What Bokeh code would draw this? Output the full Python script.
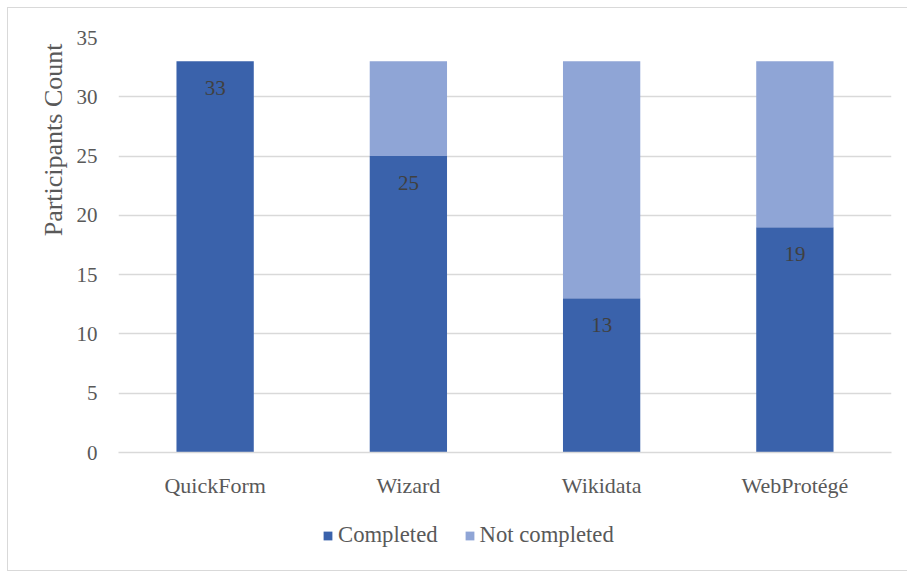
from bokeh.plotting import figure
from bokeh.models import ColumnDataSource, LabelSet, Legend, LegendItem, FactorRange, Range1d, Title
from bokeh.layouts import column
from bokeh.embed import file_html
from bokeh.resources import INLINE

tools = ["QuickForm", "Wizard", "Wikidata", "WebProtégé"]
completed = [33, 25, 13, 19]
not_completed = [0, 8, 20, 14]
y_ticks = [0, 5, 10, 15, 20, 25, 30, 35]
series_names = ["Completed", "Not completed"]

DARK = "#3A62AB"
LIGHT = "#8FA5D6"
FONT = "Liberation Serif"
TXT = "#595959"
GRID = "#d9d9d9"

src = ColumnDataSource(dict(tool=tools, Completed=completed, NotCompleted=not_completed,
                            label=[str(v) for v in completed]))

p = figure(width=899, height=492, x_range=FactorRange(*tools, range_padding=0),
           y_range=Range1d(0, 35), output_backend="svg", toolbar_location=None,
           min_border_left=110, min_border_right=16, min_border_top=29, min_border_bottom=42)
p.outline_line_color = None

r = p.vbar_stack(["Completed", "NotCompleted"], x="tool", width=0.4, source=src,
                 color=[DARK, LIGHT], line_color=None)

labels = LabelSet(x="tool", y="Completed", text="label", source=src, y_offset=-27,
                  text_align="center", text_baseline="middle", text_font=FONT,
                  text_font_size="21px", text_color="#404040")
p.add_layout(labels)

p.yaxis.ticker = y_ticks
p.yaxis.axis_line_color = None
p.yaxis.major_tick_line_color = None
p.yaxis.minor_tick_line_color = None
p.yaxis.major_label_text_font = FONT
p.yaxis.major_label_text_font_size = "21px"
p.yaxis.major_label_text_color = TXT
p.yaxis.major_label_standoff = 15

ytitle = Title(text="Participants Count", align="right", offset=6, standoff=12,
               text_font=FONT, text_font_size="26px", text_font_style="normal",
               text_color=TXT)
p.add_layout(ytitle, "left")

p.xaxis.axis_line_color = GRID
p.xaxis.axis_line_width = 1.5
p.xaxis.major_tick_line_color = None
p.xaxis.minor_tick_line_color = None
p.xaxis.major_label_text_font = FONT
p.xaxis.major_label_text_font_size = "22px"
p.xaxis.major_label_text_color = TXT
p.xaxis.major_label_standoff = 14

p.xgrid.grid_line_color = None
p.ygrid.grid_line_color = GRID
p.ygrid.grid_line_width = 1.5

# legend strip below the chart (its bars lie outside its visible range)
q = figure(width=899, height=70, output_backend="svg", toolbar_location=None,
           x_axis_location=None, y_axis_location=None, min_border=0,
           x_range=FactorRange(*tools), y_range=Range1d(100, 101))
q.outline_line_color = None
q.grid.visible = False
g = q.vbar_stack(["Completed", "NotCompleted"], x="tool", width=0.4, source=src,
                 color=[DARK, LIGHT], line_color=None)
legend = Legend(items=[LegendItem(label=series_names[0], renderers=[g[0]]),
                       LegendItem(label=series_names[1], renderers=[g[1]])],
                orientation="horizontal", location=(204, 22),
                label_text_font=FONT, label_text_font_size="22.7px", label_text_color=TXT,
                glyph_width=11, glyph_height=11, label_standoff=5, spacing=26,
                border_line_color=None, background_fill_alpha=0, padding=0, margin=0)
q.add_layout(legend, "center")

layout = column(p, q, spacing=0)
layout.styles = {"margin-left": "7px", "margin-top": "7px",
                 "border-left": "1px solid #d9d9d9", "border-top": "1px solid #d9d9d9",
                 "border-bottom": "1px solid #d9d9d9"}

open("out.html", "w").write(file_html(layout, INLINE))
